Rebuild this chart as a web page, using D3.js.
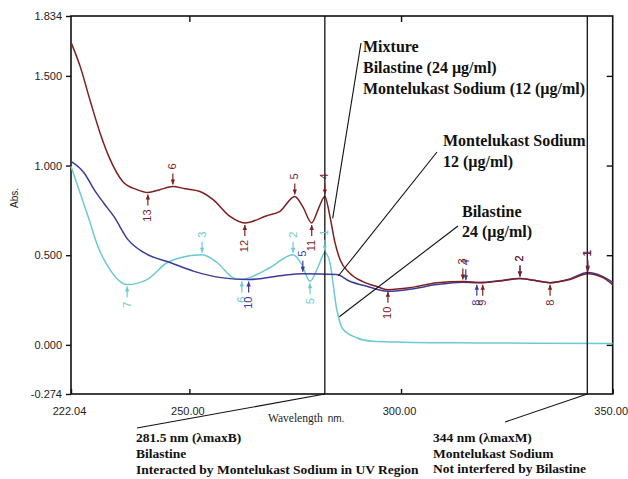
<!DOCTYPE html>
<html><head><meta charset="utf-8">
<script src="https://cdn.jsdelivr.net/npm/d3@7"></script>
<style>body{margin:0;background:#fff}svg{display:block}</style>
</head><body>
<svg id="c" width="628" height="479"></svg>
<script>
// ---- data ----
const mixtureNm  = [222.04,224.2,226.5,228.9,231.3,234.3,237.6,240.2,243.0,246.1,249.0,252.5,255.6,259.6,263.1,268.3,271.4,274.9,276.8,278.9,280.5,282.0,283.2,284.4,285.6,287.9,291.0,294.3,296.9,302.0,308.5,314.6,319.3,324.0,328.1,331.5,335.2,339.9,344.1,347.7,350.0];
const mixtureAbs = [1.687,1.553,1.367,1.182,1.033,0.910,0.866,0.850,0.865,0.883,0.870,0.855,0.810,0.716,0.680,0.720,0.745,0.828,0.770,0.680,0.760,0.828,0.717,0.570,0.475,0.400,0.353,0.325,0.308,0.318,0.347,0.353,0.347,0.358,0.370,0.360,0.347,0.364,0.397,0.375,0.336];
const monteNm  = [222.04,225.1,227.5,229.8,232.2,235.5,239.3,245.6,251.1,257.5,264.0,271.4,276.8,284.8,287.9,291.9,296.9,302.0,308.5,314.6,317.9,323.0,328.1,335.2,339.9,344.1,347.7,350.0];
const monteAbs = [1.023,0.960,0.866,0.790,0.715,0.587,0.514,0.458,0.410,0.375,0.364,0.386,0.397,0.392,0.355,0.327,0.299,0.310,0.336,0.349,0.347,0.357,0.370,0.347,0.368,0.403,0.380,0.349];
const bilaNm  = [222.04,223.7,226.1,228.4,230.8,235.3,240.0,244.7,247.8,253.0,256.6,260.3,262.4,264.2,269.0,274.5,276.5,278.5,280.5,282.0,283.2,284.8,286.2,289.5,293.3,300.4,318.0,350.0];
const bilaAbs = [0.996,0.880,0.715,0.548,0.436,0.336,0.364,0.458,0.486,0.503,0.458,0.375,0.364,0.375,0.430,0.503,0.450,0.355,0.440,0.514,0.458,0.200,0.090,0.040,0.020,0.015,0.011,0.007];

const mixturePeaks = [[240.2,"13",-1],[246.1,"6",1],[263.1,"12",-1],[274.9,"5",1],[278.9,"11",-1],[282.0,"4",1],[296.9,"10",-1],[314.6,"3",1],[319.3,"9",-1],[328.1,"2",1],[335.2,"8",-1],[344.1,"1",1]];
const montePeaks   = [[264.0,"10",-1],[276.8,"5",1],[315.3,"4",1],[317.9,"8",-1],[328.1,"2",1],[344.1,"1",1]];
const bilaPeaks    = [[235.3,"7",-1],[253.0,"3",1],[262.4,"6",-1],[274.5,"2",1],[278.5,"5",-1],[282.0,"1",1]];

const xTicks = [222.04, 250, 300, 350];
const xTickLabels = ["222.04","250.00","300.00","350.00"];
const yTicks = [-0.274, 0, 0.5, 1.0, 1.5, 1.834];
const yTickLabels = ["-0.274","0.000","0.500","1.000","1.500","1.834"];
const markLines = [282.0, 344.0];

// ---- layout ----
const svg = d3.select("#c");
const L = 71, R = 612.7, T = 16, B = 394;
const x = d3.scaleLinear().domain([222.04, 350]).range([L, R]);
const y = d3.scaleLinear().domain([-0.274, 1.834]).range([B, T]);

const colMix = "#7e1f1f", colMon = "#3c3c98", colBil = "#6ccad2";

// frame
svg.append("rect").attr("x", L).attr("y", T).attr("width", R - L).attr("height", B - T)
  .attr("fill", "none").attr("stroke", "#111").attr("stroke-width", 1.6);

// axes
const fmt = (arr, doms) => d => arr[doms.indexOf(d)];
const gy = svg.append("g").attr("transform", `translate(${L},0)`)
  .call(d3.axisLeft(y).tickValues(yTicks).tickFormat(fmt(yTickLabels, yTicks)).tickSize(5).tickSizeOuter(0));
const gx = svg.append("g").attr("transform", `translate(0,${B})`)
  .call(d3.axisBottom(x).tickValues(xTicks).tickFormat(fmt(xTickLabels, xTicks)).tickSize(-5).tickSizeOuter(0).tickPadding(13));
const gt = svg.append("g").attr("transform", `translate(0,${T})`)
  .call(d3.axisTop(x).tickValues([250, 300]).tickFormat("").tickSize(-6).tickSizeOuter(0));
const gr = svg.append("g").attr("transform", `translate(${R},0)`)
  .call(d3.axisRight(y).tickValues([0, 0.5, 1.0, 1.5]).tickFormat("").tickSize(-6).tickSizeOuter(0));
[gy, gx, gt, gr].forEach(g => {
  g.select(".domain").remove();
  g.selectAll(".tick line").attr("stroke", "#111").attr("stroke-width", 1.4);
  g.selectAll("text").attr("font-family", "Liberation Sans, Arial, sans-serif").attr("font-size", 11).attr("fill", "#222");
});
gy.selectAll("text").attr("dx", -1);
gx.selectAll("text").attr("dx", -2);

// axis titles
svg.append("text").attr("transform", "translate(18,198) rotate(-90)").attr("text-anchor", "middle")
  .attr("font-family", "Liberation Sans, Arial, sans-serif").attr("font-size", 10).attr("fill", "#222").text("Abs.");
const wt = svg.append("text").attr("x", 268).attr("y", 422).attr("fill", "#222");
wt.append("tspan").attr("font-family", "Liberation Serif, serif").attr("font-size", 11.5).text("Wavelength");
wt.append("tspan").attr("font-family", "Liberation Sans, Arial, sans-serif").attr("font-size", 10).attr("dx", 5).text("nm.");

// curves
const line = d3.line().x(d => x(d[0])).y(d => y(d[1])).curve(d3.curveMonotoneX);
const series = [
  {nm: bilaNm, ab: bilaAbs, c: colBil, pk: bilaPeaks},
  {nm: monteNm, ab: monteAbs, c: colMon, pk: montePeaks},
  {nm: mixtureNm, ab: mixtureAbs, c: colMix, pk: mixturePeaks}
];
function interp(nm, ab, w) {
  for (let i = 0; i < nm.length - 1; i++) {
    if (w >= nm[i] && w <= nm[i + 1]) {
      const t = (w - nm[i]) / (nm[i + 1] - nm[i]);
      return ab[i] + t * (ab[i + 1] - ab[i]);
    }
  }
  return ab[ab.length - 1];
}
series.forEach(s => {
  svg.append("path").datum(s.nm.map((n, i) => [n, s.ab[i]])).attr("d", line)
    .attr("fill", "none").attr("stroke", s.c).attr("stroke-width", 1.5);
});

// vertical marker lines
markLines.forEach(w => {
  svg.append("line").attr("x1", x(w)).attr("x2", x(w)).attr("y1", T).attr("y2", B)
    .attr("stroke", "#111").attr("stroke-width", 1.3);
});

// peak/valley markers
series.forEach(s => {
  s.pk.forEach(([w, lab, dir]) => {
    const px = x(w), py = y(interp(s.nm, s.ab, w));
    const g = svg.append("g").attr("fill", s.c).attr("stroke", s.c);
    const sgn = dir > 0 ? -1 : 1;
    g.append("line").attr("x1", px).attr("x2", px).attr("y1", py + sgn * 2).attr("y2", py + sgn * 13).attr("stroke-width", 1.2);
    g.append("path").attr("d", `M${px},${py + sgn * 2}L${px - 2.2},${py + sgn * 7}L${px + 2.2},${py + sgn * 7}Z`).attr("stroke", "none");
    g.append("text").attr("transform", `translate(${px + 3.5},${py + sgn * 17}) rotate(-90)`)
      .attr("text-anchor", dir > 0 ? "start" : "end").attr("stroke", "none")
      .attr("font-family", "Liberation Sans, Arial, sans-serif").attr("font-size", 11).text(lab);
  });
});

// callout leaders
const leaders = [
  [361, 43, 332.7, 218.3],
  [437, 152, 338.3, 276],
  [458, 226, 339.3, 316.7],
  [x(282.0), B, 137, 428],
  [x(344.0), B, 505, 422]
];
leaders.forEach(l => svg.append("line").attr("x1", l[0]).attr("y1", l[1]).attr("x2", l[2]).attr("y2", l[3])
  .attr("stroke", "#111").attr("stroke-width", 1.1));

function block(x0, y0, dy, size, lines) {
  const t = svg.append("text").attr("font-family", "Liberation Serif, Times New Roman, serif")
    .attr("font-weight", "bold").attr("font-size", size).attr("fill", "#111");
  lines.forEach((s, i) => t.append("tspan").attr("x", x0).attr("y", y0 + i * dy).text(s));
}
block(363, 52, 21, 16, ["Mixture", "Bilastine (24 µg/ml)", "Montelukast Sodium (12 (µg/ml)"]);
block(443, 146, 21, 16, ["Montelukast Sodium", "12 (µg/ml)"]);
block(462, 217, 20, 16, ["Bilastine", "24 (µg/ml)"]);
block(136, 442, 16, 13.5, ["281.5 nm (λmaxB)", "Bilastine", "Interacted by Montelukast Sodium in UV Region"]);
block(433, 442, 15.5, 13.5, ["344 nm (λmaxM)", "Montelukast Sodium", "Not interfered by Bilastine"]);
</script>
</body></html>
